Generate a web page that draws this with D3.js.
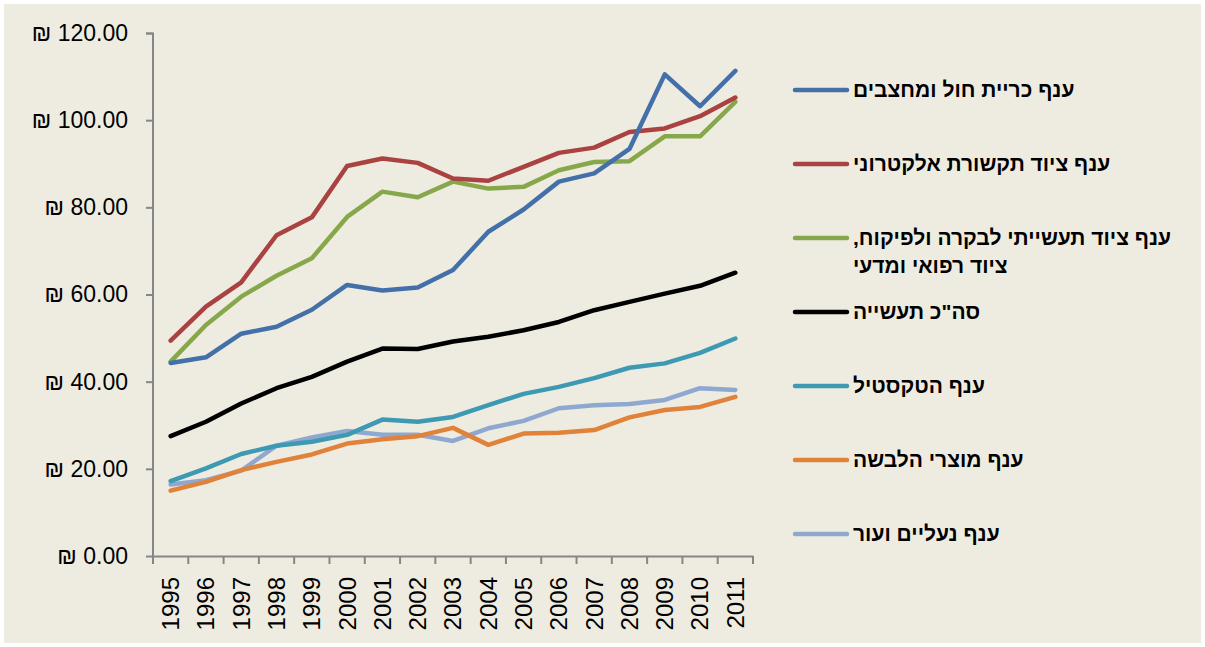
<!DOCTYPE html>
<html><head><meta charset="utf-8">
<script src="https://cdn.jsdelivr.net/npm/d3@7"></script>
<style>
html,body{margin:0;padding:0;background:#fff;}
svg{display:block;}
</style></head>
<body>
<svg id="c" width="1205" height="647"></svg>
<script>
const years = ["1995","1996","1997","1998","1999","2000","2001","2002","2003","2004","2005","2006","2007","2008","2009","2010","2011"];
const yTicks = [0,20,40,60,80,100,120];
const mining = [44.3,45.6,51.0,52.6,56.5,62.2,60.9,61.6,65.6,74.4,79.5,85.9,87.8,93.4,110.5,103.2,111.3];
const electronics = [49.4,57.2,62.8,73.6,77.7,89.5,91.2,90.2,86.6,86.1,89.3,92.5,93.7,97.3,98.1,100.9,105.2];
const medical = [44.6,53.0,59.5,64.3,68.3,77.8,83.6,82.3,85.9,84.3,84.7,88.5,90.4,90.6,96.3,96.3,104.2];
const totalIndustry = [27.5,30.8,35.0,38.5,41.1,44.6,47.6,47.5,49.2,50.3,51.8,53.7,56.4,58.3,60.2,62.0,65.0];
const textile = [17.2,20.1,23.4,25.3,26.2,27.8,31.3,30.8,31.9,34.6,37.2,38.8,40.8,43.2,44.2,46.6,49.9];
const apparel = [15.0,17.0,19.7,21.6,23.3,25.8,26.8,27.5,29.4,25.5,28.1,28.3,28.9,31.8,33.5,34.2,36.5];
const footwear = [16.4,17.4,19.6,25.3,27.2,28.7,27.8,27.8,26.4,29.3,31.0,33.9,34.6,34.9,35.8,38.5,38.1];
const seriesNames = [
  ["ענף כריית חול ומחצבים"],
  ["ענף ציוד תקשורת אלקטרוני"],
  ["ענף ציוד תעשייתי לבקרה ולפיקוח,","ציוד רפואי ומדעי"],
  ["סה\"כ תעשייה"],
  ["ענף הטקסטיל"],
  ["ענף מוצרי הלבשה"],
  ["ענף נעליים ועור"]
];
const seriesColors = ["#4470AA","#A94240","#86A84A","#000000","#3D9AB2","#E0823A","#8FA8D0"];
const seriesData = [mining, electronics, medical, totalIndustry, textile, apparel, footwear];

const svg = d3.select("#c");
svg.append("rect").attr("x",0).attr("y",0).attr("width",1205).attr("height",647).attr("fill","#FFFFFF");
svg.append("rect").attr("x",4).attr("y",4).attr("width",1197).attr("height",639).attr("fill","#EEECE1");

const x = d3.scaleBand().domain(years).range([153,753]);
const y = d3.scaleLinear().domain([0,120]).range([556,33]);

const axisColor = "#868686";
// y axis
const ya = svg.append("g").attr("transform","translate(153,0)")
  .call(d3.axisLeft(y).tickValues(yTicks).tickSize(7).tickPadding(18)
    .tickFormat(d => "₪ " + d3.format(".2f")(d)));
ya.select(".domain").attr("stroke",axisColor).attr("stroke-width",2).attr("d","M-7,33.5H0V556");
ya.selectAll(".tick line").attr("stroke",axisColor).attr("stroke-width",2);
ya.selectAll(".tick text").attr("fill","#000").attr("font-family","'Liberation Sans', Arial, sans-serif").attr("font-size",23).attr("direction","ltr");

// x axis
const xa = svg.append("g").attr("transform","translate(0,556)")
  .call(d3.axisBottom(x).tickSize(0).tickSizeOuter(0));
xa.select(".domain").attr("stroke",axisColor).attr("stroke-width",2);
xa.selectAll(".tick line").remove();
xa.selectAll(".tick text")
  .attr("fill","#000").attr("font-family","'Liberation Sans', Arial, sans-serif").attr("font-size",24)
  .attr("transform","rotate(-90)").attr("text-anchor","end").attr("dy","0.35em").attr("x",-21).attr("y",0);
// x ticks at band edges
const edges = years.map(d => x(d)).concat([x(years[years.length-1]) + x.bandwidth()]);
svg.append("g").selectAll("line").data(edges).join("line")
  .attr("x1",d=>d).attr("x2",d=>d).attr("y1",556).attr("y2",564)
  .attr("stroke",axisColor).attr("stroke-width",2);

// lines
const line = d3.line().x((d,i)=>x(years[i]) + x.bandwidth()/2).y(d=>y(d));
const order = [6,5,4,3,2,1,0];
order.forEach(k => {
  svg.append("path").datum(seriesData[k]).attr("d",line)
    .attr("fill","none").attr("stroke",seriesColors[k]).attr("stroke-width",4.5)
    .attr("stroke-linejoin","round").attr("stroke-linecap","round");
});

// legend
const legY = [90,164,238,312,386,460,534];
const leg = svg.append("g");
seriesNames.forEach((lines,i) => {
  leg.append("line").attr("x1",795).attr("x2",847).attr("y1",legY[i]).attr("y2",legY[i])
    .attr("stroke",seriesColors[i]).attr("stroke-width",4.5).attr("stroke-linecap","round");
  lines.forEach((t,j) => {
    leg.append("text").attr("x",853).attr("y",legY[i] + j*28).attr("dy","0.35em")
      .attr("direction","rtl").attr("text-anchor","end")
      .attr("font-family","'Liberation Sans', Arial, sans-serif").attr("font-weight","bold").attr("font-size",21)
      .attr("fill","#000").text(t);
  });
});
</script>
</body></html>
